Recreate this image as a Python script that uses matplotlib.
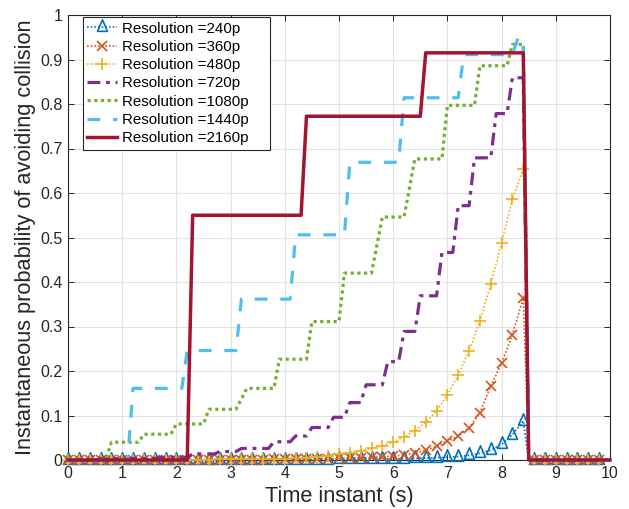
import numpy as np
import matplotlib
matplotlib.use("Agg")
import matplotlib.pyplot as plt
from matplotlib.lines import Line2D
from matplotlib.path import Path

plt.rcParams['font.family'] = ['Liberation Sans', 'DejaVu Sans']

# ---------------- data ----------------
labels = ["Resolution =240p", "Resolution =360p", "Resolution =480p",
          "Resolution =720p", "Resolution =1080p", "Resolution =1440p",
          "Resolution =2160p"]
colors = ["#0072BD", "#D95319", "#EDB120", "#7E2F8E", "#77AC30", "#4DBEEE", "#A2142F"]

# sampled curves (0.2 s grid up to 8.4 s, drop at 8.5 s, then 0.2 s grid)
t_mark = [round(0.2 * i, 1) for i in range(43)] + [8.5] + [round(8.6 + 0.2 * i, 1) for i in range(7)]

v_240 = [0.0] * 16 + [0.0002, 0.0003, 0.0003, 0.0004, 0.0005,
         0.0006, 0.0007, 0.0008, 0.001, 0.0012, 0.0014, 0.0016, 0.0019, 0.0022, 0.0026,
         0.003, 0.0035, 0.0042, 0.005, 0.006, 0.0078, 0.0105, 0.015, 0.022, 0.035,
         0.057, 0.088] + [0.0] * 8
v_360 = [0.0, 0.0, 0.0, 0.0, 0.0, 0.0001, 0.0001, 0.0001, 0.0002, 0.0002, 0.0002,
         0.0003, 0.0003, 0.0004, 0.0005, 0.0006, 0.0007, 0.0008, 0.001, 0.0012, 0.0014,
         0.0017, 0.002, 0.0024, 0.0029, 0.0035, 0.0042, 0.005, 0.006, 0.0072, 0.0088,
         0.011, 0.0155, 0.022, 0.031, 0.042, 0.054, 0.072, 0.1065, 0.166, 0.2175,
         0.282, 0.364] + [0.0] * 8
v_480 = [0.0002, 0.0002, 0.0003, 0.0003, 0.0004, 0.0004, 0.0005, 0.0006, 0.0007, 0.0008, 0.0009,
         0.0009, 0.001, 0.0011, 0.0013, 0.0015, 0.0017, 0.002, 0.0023, 0.0027, 0.0032,
         0.004, 0.005, 0.0075, 0.0097, 0.013, 0.0165, 0.021, 0.026, 0.032, 0.0405,
         0.0515, 0.066, 0.085, 0.1105, 0.146, 0.191, 0.2455, 0.313, 0.395, 0.488,
         0.5865, 0.654] + [0.0] * 8

# staircase curves: polyline vertices (time, value)
t_720 = [0, 0.5, 0.6, 1.6, 1.7, 2.2, 2.3, 2.7, 2.8, 3.1, 3.2, 3.7, 3.8, 4.1, 4.2, 4.4,
         4.5, 4.8, 4.9, 5.1, 5.2, 5.4, 5.5, 5.8, 5.9, 6.1, 6.2, 6.4, 6.5, 6.8, 6.9, 7.1,
         7.2, 7.4, 7.5, 7.8, 7.9, 8.1, 8.2, 8.4, 8.5, 10]
v_720 = [0, 0, 0.003, 0.003, 0.006, 0.006, 0.0135, 0.0135, 0.019, 0.019, 0.026, 0.026,
         0.041, 0.041, 0.054, 0.054, 0.073, 0.073, 0.096, 0.096, 0.129, 0.129, 0.169, 0.169,
         0.221, 0.221, 0.289, 0.289, 0.369, 0.369, 0.4665, 0.4665, 0.5715, 0.5715,
         0.679, 0.679, 0.7785, 0.7785, 0.859, 0.859, 0, 0]

t_1080 = [0, 0.7, 0.8, 1.3, 1.4, 1.9, 2.0, 2.5, 2.6, 3.1, 3.3, 3.8, 3.9, 4.4, 4.5, 5.0,
          5.1, 5.6, 5.8, 6.2, 6.4, 6.9, 7.0, 7.5, 7.6, 8.1, 8.2, 8.4, 8.5, 10]
v_1080 = [0, 0, 0.040, 0.040, 0.058, 0.058, 0.081, 0.081, 0.114, 0.114, 0.161, 0.161,
          0.2265, 0.2265, 0.311, 0.311, 0.42, 0.42, 0.546, 0.546, 0.6765, 0.6765,
          0.797, 0.797, 0.886, 0.886, 0.934, 0.934, 0, 0]

t_1440 = [0, 1.1, 1.2, 2.1, 2.2, 3.1, 3.2, 4.1, 4.2, 5.1, 5.2, 6.1, 6.2, 7.2, 7.3,
          8.2, 8.3, 8.4, 8.5, 10]
v_1440 = [0, 0, 0.161, 0.161, 0.246, 0.246, 0.3615, 0.3615, 0.506, 0.506, 0.669, 0.669,
          0.814, 0.814, 0.911, 0.911, 0.947, 0.947, 0, 0]

t_2160 = [0, 2.2, 2.3, 4.3, 4.4, 6.5, 6.6, 8.4, 8.5, 10]
v_2160 = [0, 0, 0.55, 0.55, 0.7725, 0.7725, 0.915, 0.915, 0, 0]

x_ticks = list(range(0, 11))
y_ticks = [round(0.1 * i, 1) for i in range(11)]
y_ticklabels = ["0", "0.1", "0.2", "0.3", "0.4", "0.5", "0.6", "0.7", "0.8", "0.9", "1"]

# ---------------- figure ----------------
fig = plt.figure(figsize=(6.29, 5.09), dpi=100)
ax = fig.add_axes([68 / 629, 1 - 460 / 509, 542 / 629, 445 / 509])

axc = "#262626"
mark_idx = [i for i in range(len(t_mark)) if t_mark[i] != 8.5]

# open triangle whose centroid sits on the data point (as in MATLAB)
tri = Path([(0, 1.0), (-0.645, -0.5), (0.645, -0.5), (0, 1.0)],
           [Path.MOVETO, Path.LINETO, Path.LINETO, Path.CLOSEPOLY])

styles = [
    dict(ls=(0, (1, 1.2)), lw=1.2, marker=tri, ms=11.1, mew=1.2, mfc='none'),
    dict(ls=(0, (1, 1.2)), lw=1.2, marker='x', ms=6.5, mew=1.2),
    dict(ls=(0, (1, 1.2)), lw=1.2, marker='+', ms=8.5, mew=1.2),
    dict(ls=(0, (4, 1.8, 1.2, 1.8)), lw=2.3),
    dict(ls=(0, (1, 1.1)), lw=2.3),
    dict(ls=(0, (4, 4)), lw=2.3),
    dict(ls='-', lw=2.5),
]

series = [(t_mark, v_240), (t_mark, v_360), (t_mark, v_480),
          (t_720, v_720), (t_1080, v_1080), (t_1440, v_1440), (t_2160, v_2160)]

for k, ((tt, vv), st) in enumerate(zip(series, styles)):
    kw = dict(st)
    if 'marker' in kw:
        kw['markevery'] = mark_idx
    ax.plot(tt, vv, color=colors[k], dash_capstyle='butt', clip_on=False, zorder=3 + k * 0.1, **kw)

ax.set_xlim(0, 10)
ax.set_ylim(0, 1)
ax.set_xticks(x_ticks)
ax.set_yticks(y_ticks)
ax.set_yticklabels(y_ticklabels)
ax.grid(True, color="#e3e3e3", lw=0.8)
ax.set_axisbelow(True)
ax.tick_params(direction='in', top=True, right=True, length=4, width=0.7,
               colors=axc, labelsize=11.5, pad=4)
for sp in ax.spines.values():
    sp.set_color(axc)
    sp.set_linewidth(0.8)
    sp.set_zorder(2.5)

ax.set_xlabel("Time instant (s)", fontsize=15.7, color=axc, labelpad=4)
ax.set_ylabel("Instantaneous probability of avoiding collision", fontsize=15.7, color=axc, labelpad=3)

handles = []
for k, st in enumerate(styles):
    kw = dict(st)
    handles.append(Line2D([0], [0], color=colors[k], dash_capstyle='butt', **kw))
leg = ax.legend(handles, [l + "    " for l in labels], loc='upper left',
                bbox_to_anchor=(0.027, 0.995), borderaxespad=0, fontsize=10.9,
                handlelength=2.0, handletextpad=0.3, labelspacing=0.28,
                borderpad=0.3, fancybox=False, framealpha=1, edgecolor=axc)
leg.get_frame().set_linewidth(0.8)
leg.set_zorder(10)

fig.savefig("out.png", dpi=100)
